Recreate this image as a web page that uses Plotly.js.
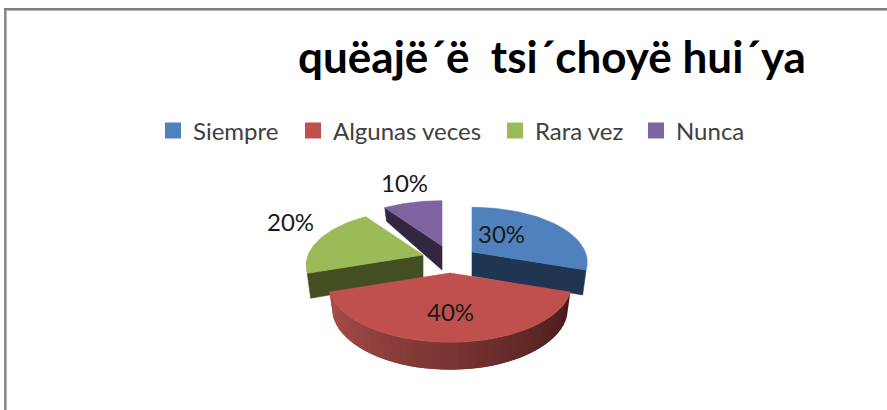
<!DOCTYPE html>
<html>
<head>
<meta charset="utf-8">
<script src="https://cdn.plot.ly/plotly-3.0.1.min.js"></script>
<style>html,body{margin:0;padding:0;background:#fff}#chart{width:887px;height:410px}</style>
</head>
<body>
<div id="chart"></div>
<script>
const chartTitle = "quëajë´ë  tsi´choyë hui´ya";
const categories = ["Siempre", "Algunas veces", "Rara vez", "Nunca"];
const percentages = [30, 40, 20, 10];
const topColors = ["#4f81bd", "#c0504d", "#9bbb59", "#8064a2"];
const wallColors = ["#1f3552", "#7a302d", "#434f21", "#33263f"];

// Projection of the tilted, exploded pie onto the page (axes run in page pixels).
const A = 115, B = 56, K = 0.19;
const apexX = [472, 450, 423, 442], apexY = [252, 273, 255, 246];
const spread = [0.985, 1.04, 1, 1];
const labelX = [501, 450, 290, 404], labelY = [233, 311, 221, 182];
const legendTextStart = [191, 331, 533, 674];

function rim(i, t) {
  const r = (1 - K * Math.cos(t)) * spread[i];
  return [apexX[i] + A * Math.sin(t) * r, apexY[i] - B * Math.cos(t) * r];
}
function below(i, p) {
  const dx = p[0] - apexX[i], dy = p[1] - apexY[i];
  const d = dy < 0 ? 24 + 0.27 * dy : 24 + 0.05 * dy;
  return [p[0] - 0.03 * dx, p[1] + d];
}
function poly(pts, color, lineWidth) {
  const xs = pts.map(p => p[0]).concat(pts[0][0]);
  const ys = pts.map(p => p[1]).concat(pts[0][1]);
  return {type: "scatter", mode: "lines", x: xs, y: ys, fill: "toself", fillcolor: color,
          line: {color: color, width: lineWidth === undefined ? 0.6 : lineWidth},
          hoverinfo: "skip", showlegend: false};
}
const total = percentages.reduce((a, b) => a + b, 0);
const start = [], end = [];
let acc = 0;
percentages.forEach((v, i) => { start[i] = acc / total * 2 * Math.PI; acc += v; end[i] = acc / total * 2 * Math.PI; });

const wedge = i => {
  const pts = [[apexX[i], apexY[i]]];
  for (let s = 0; s <= 40; s++) pts.push(rim(i, start[i] + (end[i] - start[i]) * s / 40));
  return pts;
};
const cutFace = (i, t) => {
  const a = [apexX[i], apexY[i]], r = rim(i, t);
  return [a, r, below(i, r), below(i, a)];
};

const traces = [];
// back to front: Nunca, Rara vez, Siempre, Algunas veces
traces.push(poly(cutFace(3, start[3]), wallColors[3]));
traces.push(poly(wedge(3), topColors[3]));
traces.push(poly(cutFace(2, start[2]), wallColors[2]));
traces.push(poly(wedge(2), topColors[2]));
traces.push(poly(cutFace(0, end[0]), wallColors[0]));
traces.push(poly(wedge(0), topColors[0]));
// outer wall of the front slice, shaded from dark (right) to lighter (left)
const N = 40, c0 = [70, 27, 25], c1 = [170, 78, 74];
const span = end[1] - start[1];
for (let s = 0; s < N; s++) {
  const t0 = start[1] + span * s / N, t1 = Math.min(end[1], start[1] + span * (s + 2) / N);
  const u = s / (N - 1);
  const col = "rgb(" + c0.map((c, j) => Math.round(c + (c1[j] - c) * u)).join(",") + ")";
  const pts = [];
  for (let q = 0; q <= 2; q++) pts.push(rim(1, t0 + (t1 - t0) * q / 2));
  const low = pts.map(p => below(1, p)).reverse();
  traces.push(poly(pts.concat(low), col, 0));
}
traces.push(poly(wedge(1), topColors[1]));

// legend entries, one small legend per category so each sits where the reference has it
const F = "Lato, sans-serif";
const legendIds = ["legend", "legend2", "legend3", "legend4"];
categories.forEach((c, i) => traces.push({
  type: "scatter", mode: "markers", x: [null], y: [null], name: c, hoverinfo: "skip",
  legend: legendIds[i], showlegend: true,
  marker: {symbol: "square", size: 16, color: topColors[i]}
}));

const layout = {
  width: 887, height: 410,
  margin: {l: 0, r: 0, t: 0, b: 0},
  paper_bgcolor: "#fff", plot_bgcolor: "#fff",
  title: {text: chartTitle, x: 552 / 887, xanchor: "center", y: 1 - 58 / 410, yanchor: "middle",
          font: {family: F, size: 44, color: "#000", weight: 700}},
  xaxis: {range: [0, 887], visible: false, fixedrange: true},
  yaxis: {range: [410, 0], visible: false, fixedrange: true},
  showlegend: true,
  annotations: percentages.map((v, i) => ({
    x: labelX[i], y: labelY[i], text: v + "%", showarrow: false, xanchor: "center", yanchor: "middle",
    font: {family: F, size: 24, color: "#1a1a1a"}
  })),
  shapes: [
    {type: "rect", xref: "x", yref: "y", x0: 4, x1: 6, y0: 8, y1: 410, fillcolor: "#8a8a8a", line: {width: 0}},
    {type: "rect", xref: "x", yref: "y", x0: 6, x1: 7, y0: 10, y1: 410, fillcolor: "#b0b0b0", line: {width: 0}},
    {type: "rect", xref: "x", yref: "y", x0: 4, x1: 887, y0: 8, y1: 10, fillcolor: "#808080", line: {width: 0}},
    {type: "rect", xref: "x", yref: "y", x0: 6, x1: 887, y0: 10, y1: 11, fillcolor: "#b0b0b0", line: {width: 0}}
  ]
};
legendIds.forEach((id, i) => {
  layout[id] = {orientation: "h", x: (legendTextStart[i] - 38) / 887, xanchor: "left", y: 1 - 131 / 410, yanchor: "middle",
    font: {family: F, size: 24, color: "#404040"}, bgcolor: "rgba(0,0,0,0)", itemclick: false, itemdoubleclick: false};
});
Plotly.newPlot("chart", traces, layout, {displayModeBar: false, responsive: false});
</script>
</body>
</html>
